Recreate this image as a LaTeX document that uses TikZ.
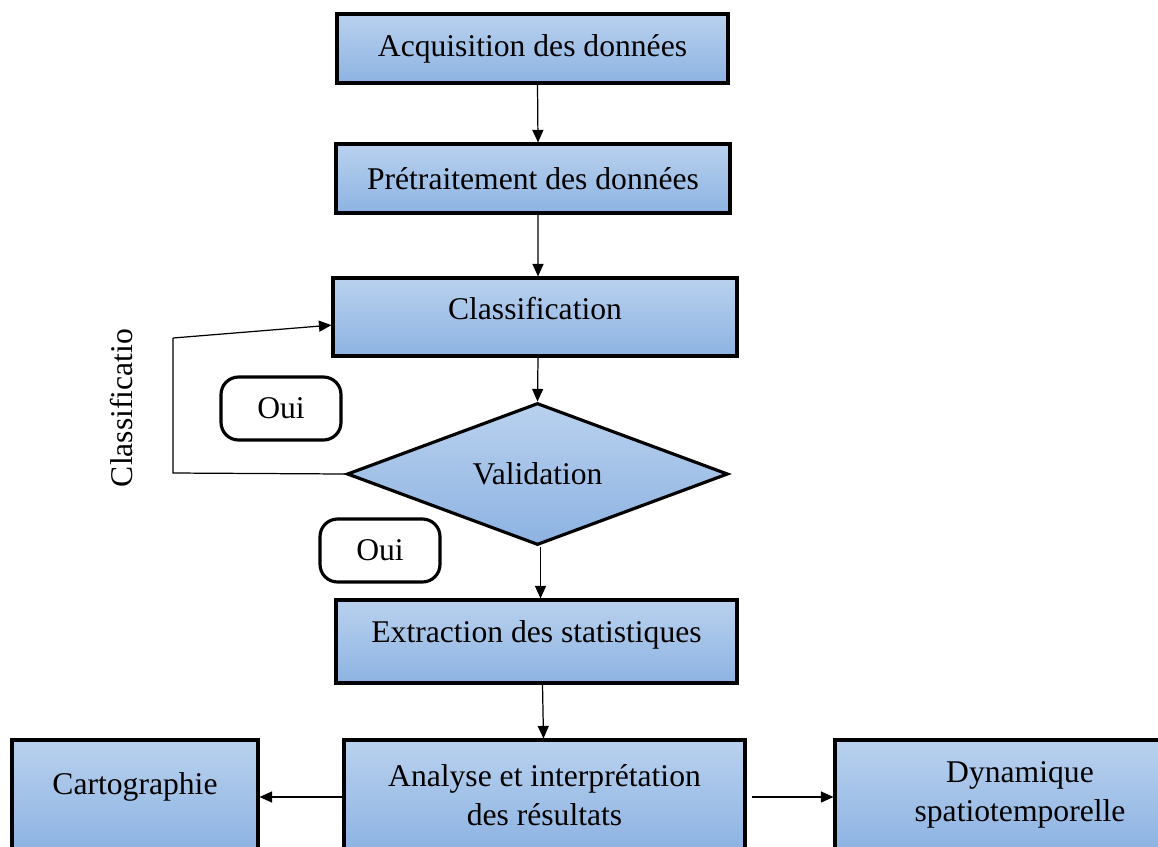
\documentclass[tikz,border=0pt]{standalone}
\usepackage{fontspec}
\setmainfont{Liberation Serif}
\usetikzlibrary{shapes.geometric,arrows.meta,calc}
\definecolor{boxtop}{HTML}{B9D1EE}
\definecolor{boxbot}{HTML}{8DB3E2}
\tikzset{
  stepbox/.style={draw=black, line width=1.8pt, rectangle, top color=boxtop, bottom color=boxbot, font=\fontsize{18}{22}\selectfont, inner sep=2pt, align=center},
  decbox/.style={draw=black, line width=1.8pt, diamond, aspect=2.68, inner sep=0pt, top color=boxtop, bottom color=boxbot, font=\fontsize{18}{22}\selectfont},
  ouibox/.style={draw=black, line width=1.8pt, rounded corners=10pt, fill=white, minimum width=2.4cm, minimum height=1.26cm, font=\fontsize{18}{22}\selectfont},
  arr/.style={line width=0.7pt, -{Triangle[length=0.25cm,width=0.22cm]}}
}
\begin{document}
\begin{tikzpicture}[x=0.02cm,y=-0.02cm]
\useasboundingbox (0,0) rectangle (1158,846);
\clip (0,0) rectangle (1158,846);
\node[stepbox, minimum width=7.82cm, minimum height=1.38cm] (acq) at (532.5,48.5) {Acquisition des données};
\node[stepbox, minimum width=7.88cm, minimum height=1.38cm] (pre) at (533,178.5) {Prétraitement des données};
\node[stepbox, minimum width=8.08cm, minimum height=1.56cm, text depth=0.35cm] (cls) at (535,317) {Classification};
\node[decbox, minimum width=7.62cm, minimum height=2.84cm] (val) at (537.5,474) {Validation};
\node[ouibox] (oui1) at (281,408.5) {Oui};
\node[ouibox] (oui2) at (380,550.5) {Oui};
\node[stepbox, minimum width=8.02cm, minimum height=1.66cm, text depth=0.4cm] (ext) at (536.5,641.5) {Extraction des statistiques};
\node[stepbox, minimum width=8.02cm, minimum height=2.2cm] (ana) at (544.5,795) {Analyse et interprétation\\des résultats};
\node[stepbox, minimum width=4.92cm, minimum height=2.2cm, text depth=0.45cm] (car) at (135,795) {Cartographie};
\node[stepbox, minimum width=7.4cm, minimum height=2.2cm] (dyn) at (1020,795) {Dynamique\\spatiotemporelle};
\node[rotate=90, font=\fontsize{18}{22}\selectfont] (lbl) at (122,408) {Classificatio};
\coordinate (lc1) at (173,473);
\coordinate (lc2) at (173,338);
\draw[arr] ([xshift=0.1cm]acq.south) -- ([xshift=0.1cm]pre.north);
\draw[arr] ([xshift=0.1cm]pre.south) -- ([xshift=0.06cm]cls.north);
\draw[arr] ([xshift=0.06cm]cls.south) -- (val.north);
\draw[arr] ([xshift=0.06cm]val.south) -- ([xshift=0.08cm]ext.north);
\draw[arr] ([xshift=0.12cm]ext.south) -- ([xshift=-0.02cm]ana.north);
\draw[line width=0.7pt] (val.west) -- (lc1) -- (lc2);
\draw[arr] (lc2) -- ($(cls.south west)!0.4!(cls.north west)$);
\draw[arr] (ana.west |- 0,797) -- (car.east |- 0,797);
\draw[arr] ([xshift=0.1cm]ana.east |- 0,797) -- (dyn.west |- 0,797);
\end{tikzpicture}
\end{document}
